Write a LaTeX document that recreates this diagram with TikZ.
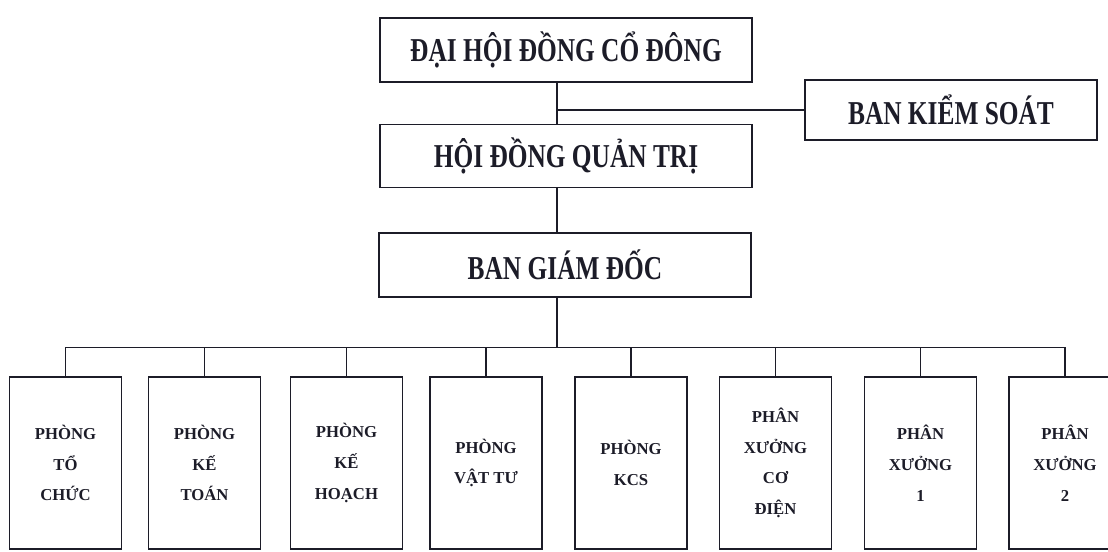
\documentclass[tikz,border=0pt]{standalone}
\usepackage{fontspec}
\setmainfont{Liberation Serif}
\newfontfamily\narrowfont[FakeStretch=0.76]{Liberation Serif}
\definecolor{ink}{RGB}{28,28,40}

\begin{document}
\begin{tikzpicture}[line width=0.8pt, draw=ink, text=ink,
  topbox/.style={draw=ink, rectangle, minimum width=7.44cm, minimum height=1.28cm,
    font=\narrowfont\bfseries\fontsize{19}{22}\selectfont},
  unitbox/.style={draw=ink, rectangle, minimum width=2.24cm, minimum height=3.44cm,
    align=center, font=\bfseries\fontsize{9.5}{17.5}\selectfont}]
  \useasboundingbox (0,0) rectangle (22.16,-11.02);
  \clip (0,0) rectangle (22.16,-11.02);

  \node [topbox] (dhcd) at (11.32,-1.00) {ĐẠI HỘI ĐỒNG CỔ ĐÔNG};
  \node [topbox, minimum height=1.26cm] (hdqt) at (11.32,-3.12) {HỘI ĐỒNG QUẢN TRỊ};
  \node [topbox] (bgd) at (11.30,-5.30) {BAN GIÁM ĐỐC};
  \node [topbox, minimum width=5.84cm, minimum height=1.20cm] (bks) at (19.02,-2.20) {BAN KIỂM SOÁT};

  \coordinate (spine) at ([xshift=-0.18cm]dhcd.south);
  \draw (spine) -- (spine |- hdqt.north);
  \draw (bks.west) -- (bks.west -| spine);
  \draw (spine |- hdqt.south) -- (spine |- bgd.north);

  \path (spine |- bgd.south) ++(0,-1.0) coordinate (bus);
  \draw (spine |- bgd.south) -- (bus);

  \foreach \i/\x/\t in {1/1.31/{PHÒNG\\TỔ\\CHỨC}, 2/4.09/{PHÒNG\\KẾ\\TOÁN},
      3/6.93/{PHÒNG\\KẾ\\HOẠCH}, 4/9.72/{PHÒNG\\VẬT TƯ},
      5/12.62/{PHÒNG\\KCS}, 6/15.51/{PHÂN\\XƯỞNG\\CƠ\\ĐIỆN},
      7/18.41/{PHÂN\\XƯỞNG\\1}, 8/21.30/{PHÂN\\XƯỞNG\\2}} {
    \node [unitbox] (p\i) at (\x,-9.26) {\t};
    \draw (bus) -| (p\i.north);
  }
\end{tikzpicture}
\end{document}
